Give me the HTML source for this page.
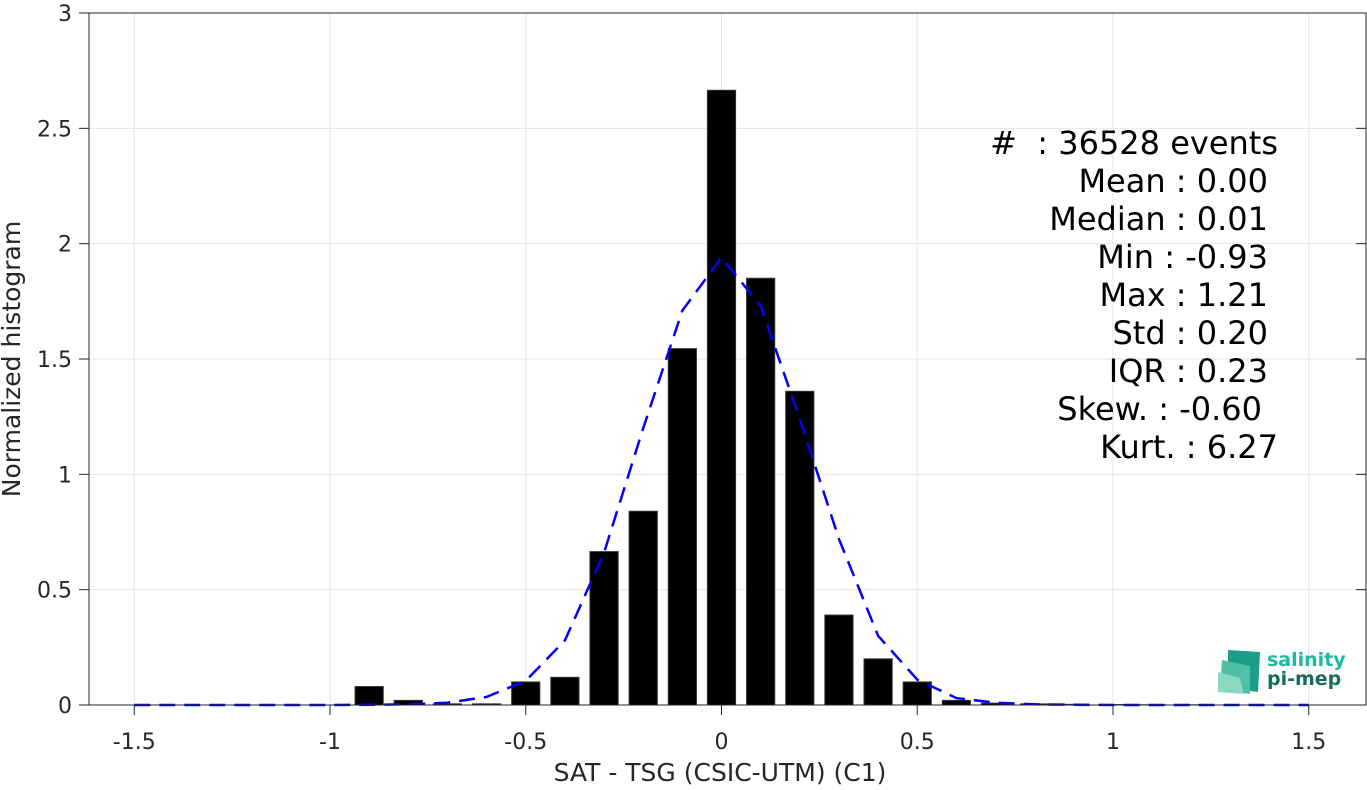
<!DOCTYPE html>
<html><head><meta charset="utf-8"><style>
body{margin:0;background:#fff;}
svg text{font-family:"DejaVu Sans","Liberation Sans",sans-serif;white-space:pre;}
</style></head><body>
<svg id="chart" width="1367" height="785" xmlns="http://www.w3.org/2000/svg">
<g id="grid"></g>
<g id="bars"></g>
<polyline id="fit" fill="none" stroke="#0000ff" stroke-width="2.5" stroke-dasharray="16,9"/>
<g id="axes"></g>
<text x="720" y="781" font-size="25" fill="#262626" text-anchor="middle">SAT - TSG (CSIC-UTM) (C1)</text>
<text transform="translate(20,359) rotate(-90)" font-size="25" fill="#262626" text-anchor="middle">Normalized histogram</text>
<g font-size="32" fill="#000" text-anchor="end">
<text x="1278" y="154">#  : 36528 events</text>
<text x="1268" y="192">Mean : 0.00</text>
<text x="1268" y="230">Median : 0.01</text>
<text x="1268" y="268">Min : -0.93</text>
<text x="1268" y="306">Max : 1.21</text>
<text x="1268" y="344">Std : 0.20</text>
<text x="1268" y="382">IQR : 0.23</text>
<text x="1262" y="420">Skew. : -0.60</text>
<text x="1278" y="458">Kurt. : 6.27</text>
</g>
<g>
<polygon points="1228,650 1260,652 1258,692 1228,688" fill="#1a9e8a"/>
<polygon points="1222,660 1250,666 1250,694 1220,690" fill="#4fbfa5"/>
<polygon points="1218,672 1240,678 1244,694 1218,692" fill="#8dd8c0"/>
<text x="1267" y="666" font-size="19" font-weight="bold" fill="#1fb8a0">salinity</text>
<text x="1267" y="685" font-size="19" font-weight="bold" fill="#1a6a5e">pi-mep</text>
</g>
</svg>
<script>
const binCenters=[-0.9,-0.8,-0.7,-0.6,-0.5,-0.4,-0.3,-0.2,-0.1,0,0.1,0.2,0.3,0.4,0.5,0.6,0.7,0.8,0.9,1.0,1.1,1.2];
const binValues=[0.08,0.02,0.005,0.005,0.10,0.12,0.665,0.84,1.545,2.665,1.85,1.36,0.39,0.20,0.10,0.02,0.008,0.005,0.003,0.002,0.001,0.001];
const fitX=[-1.5,-1.4,-1.3,-1.2,-1.1,-1.0,-0.9,-0.8,-0.7,-0.6,-0.5,-0.4,-0.3,-0.2,-0.1,0,0.1,0.2,0.3,0.4,0.5,0.6,0.7,0.8,0.9,1.0,1.1,1.2,1.3,1.4,1.5];
const fitY=[0,0,0,0,0,0,0.001,0.003,0.01,0.035,0.105,0.28,0.66,1.20,1.71,1.94,1.73,1.24,0.72,0.30,0.11,0.03,0.01,0.003,0.001,0,0,0,0,0,0];
const xTicks=[-1.5,-1,-0.5,0,0.5,1,1.5];
const xTickLabels=["-1.5","-1","-0.5","0","0.5","1","1.5"];
const yTicks=[0,0.5,1,1.5,2,2.5,3];
const yTickLabels=["0","0.5","1","1.5","2","2.5","3"];
const L=89,R=1366,T=13,B=705;
const xs=v=>721.5+v*391.5;
const ys=v=>B-v*(B-T)/3;
const NS="http://www.w3.org/2000/svg";
function mk(tag,attrs,parent){const e=document.createElementNS(NS,tag);for(const k in attrs)e.setAttribute(k,attrs[k]);parent.appendChild(e);return e;}
const grid=document.getElementById('grid'),bars=document.getElementById('bars'),axes=document.getElementById('axes');
xTicks.forEach((t,i)=>{
 const g=mk('line',{x1:xs(t),x2:xs(t),y1:T,y2:B,stroke:'#e6e6e6','stroke-width':1},grid);
 
 
 const tk=mk('line',{x1:xs(t),x2:xs(t),y1:B,y2:B+10,stroke:'#262626','stroke-width':1},axes);
 
 
 const tx=mk('text',{x:xs(t),y:749,'font-size':22,fill:'#262626','text-anchor':'middle'},axes);
 tx.textContent=xTickLabels[i];
 
 
});
yTicks.forEach((t,i)=>{
 const g=mk('line',{x1:L,x2:R,y1:ys(t),y2:ys(t),stroke:'#e6e6e6','stroke-width':1},grid);
 
 
 const tk=mk('line',{x1:L-10,x2:L,y1:ys(t),y2:ys(t),stroke:'#262626','stroke-width':1},axes);
 
 
 const tk2=mk('line',{x1:R-10,x2:R,y1:ys(t),y2:ys(t),stroke:'#262626','stroke-width':1},axes);
 
 
 const tx=mk('text',{x:72,y:ys(t)+8,'font-size':22,fill:'#262626','text-anchor':'end'},axes);
 tx.textContent=yTickLabels[i];
 
 
});
const bw=0.072*391.5;
binCenters.forEach((c,i)=>{
 const h=binValues[i]*(B-T)/3;
 const r=mk('rect',{x:xs(c)-bw/2,y:B-h,width:bw,height:h,fill:'#000',stroke:'#333','stroke-width':1},bars);
 
 
});
document.getElementById('fit').setAttribute('points',fitX.map((x,i)=>xs(x)+','+ys(fitY[i])).join(' '));
const box=mk('path',{d:`M${L},${T}H${R}V${B}H${L}Z`,fill:'none',stroke:'#262626','stroke-width':1},axes);


</script>
</body></html>
